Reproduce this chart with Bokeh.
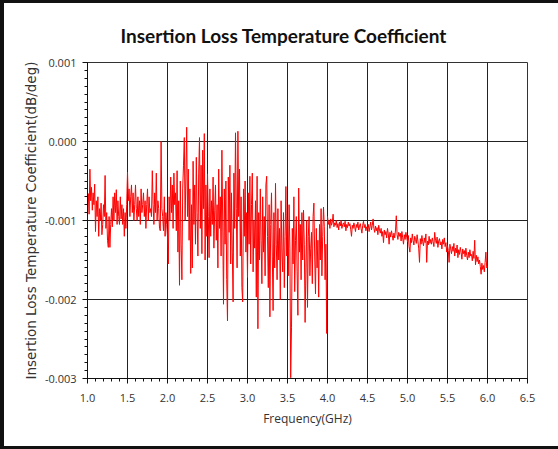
import numpy as np
from bokeh.plotting import figure
from bokeh.models import Range1d, SingleIntervalTicker, PrintfTickFormatter, ColumnDataSource
from bokeh.embed import file_html
from bokeh.resources import INLINE

title_text = "Insertion Loss Temperature Coefficient"
x_label = "Frequency(GHz)"
y_label = "Insertion Loss Temperature Coefficient(dB/deg)"

# frequency sweep, 1.00 .. 6.00 GHz in 0.01 GHz steps (501 points)
freq_ghz = np.round(np.linspace(1.0, 6.0, 501), 2)

# coefficient, in units of 0.001 dB/deg (one row = 0.1 GHz)
band_1_2 = [
    -0.80, -0.66, -0.92, -0.35, -0.75, -0.58, -0.87, -0.65, -0.80, -0.54,
    -1.14, -0.75, -0.95, -0.70, -1.20, -0.85, -1.00, -0.78, -1.18, -1.05,
    -0.80, -0.95, -0.43, -1.10, -0.90, -1.25, -1.34, -0.95, -1.34, -1.05,
    -0.85, -1.08, -0.70, -1.00, -0.65, -0.90, -0.61, -1.05, -0.75, -0.95,
    -1.05, -0.70, -0.98, -0.80, -1.05, -0.85, -1.20, -0.90, -1.10, -0.80,
    -0.39, -0.75, -0.60, -0.95, -0.70, -0.55, -0.90, -0.65, -1.00, -0.80,
    -0.55, -0.85, -1.00, -0.70, -0.95, -0.75, -1.05, -0.60, -0.90, -0.80,
    -0.65, -0.95, -0.75, -1.10, -0.80, -0.60, -1.00, -0.70, -0.90, -0.85,
    -0.95, -0.37, -0.80, -1.05, -0.65, -0.90, -0.40, -1.00, -0.75, -0.85,
    -1.10, -1.13, 0.00, -0.85, -0.95, -1.13, -0.70, -1.20, -0.90, -1.05,
]
band_2_3 = [
    -1.20, -1.55, -0.70, -1.00, -0.45, -0.90, -0.55, -1.10, -0.40, -0.80,
    -0.65, -1.13, -0.37, -1.40, -0.75, -1.82, -0.50, -1.30, -1.75, -0.60,
    -0.30, 0.05, -1.00, -0.45, 0.18, -0.95, -0.35, -1.25, -0.60, -1.67,
    -0.80, -1.60, -0.25, -1.05, -0.55, -1.30, -0.20, -0.90, -1.45, -0.40,
    0.05, -1.10, -0.30, -1.42, -0.11, -0.85, 0.10, -1.50, -0.55, -1.20,
    -0.41, -0.95, -1.47, -0.60, -1.20, -0.75, -1.05, -0.45, -1.35, -0.87,
    -0.55, -1.25, -0.80, -1.60, -0.35, -1.10, -0.70, -1.45, -0.11, -1.00,
    -2.06, -0.60, -1.30, -0.50, -1.75, -2.27, -0.45, -1.15, -0.30, -1.55,
    -0.65, -1.40, -2.03, -0.40, -1.10, 0.11, -0.85, -1.60, 0.13, -0.95,
    -0.35, -1.45, -0.70, -1.85, -2.03, -0.60, -1.20, -0.50, -1.40, -0.90,
]
band_3_4 = [
    -1.72, -0.65, -1.30, -0.44, -1.55, -0.80, -0.40, -1.65, -1.00, -1.35,
    -0.75, -1.97, -0.44, -2.37, -0.90, -1.50, -0.60, -1.25, -1.80, -0.70,
    -1.40, -0.95, -1.70, -0.55, -0.44, -1.20, -1.85, -0.80, -2.22, -1.05,
    -0.65, -1.45, -2.14, -0.90, -1.60, -0.53, -1.30, -1.75, -0.85, -1.50,
    -1.10, -2.00, -0.75, -1.40, -1.65, -0.90, -1.85, -1.20, -0.57, -1.45,
    -1.00, -1.70, -0.80, -1.35, -2.99, -2.35, -1.10, -1.55, -0.70, -1.90,
    -1.25, -0.95, -1.65, -2.20, -0.59, -1.40, -1.05, -1.75, -0.90, -1.50,
    -0.87, -1.30, -2.29, -1.60, -1.00, -2.10, -1.20, -0.95, -1.70, -1.35,
    -1.15, -1.80, -0.95, -0.78, -1.45, -1.93, -1.10, -1.60, -1.25, -1.97,
    -1.05, -1.50, -0.85, -1.70, -1.20, -0.83, -1.08, -1.75, -1.30, -2.43,
]
band_4_5 = [
    -0.95, -1.05, -1.00, -1.10, -0.98, -1.06, -1.02, -0.92, -1.08, -1.03,
    -1.06, -1.00, -1.09, -1.04, -1.12, -1.02, -1.07, -1.00, -1.10, -1.05,
    -1.03, -1.08, -1.01, -1.13, -1.05, -1.09, -1.02, -1.07, -1.04, -1.11,
    -1.20, -1.06, -1.10, -1.03, -1.08, -1.14, -1.05, -1.09, -1.02, -1.12,
    -1.07, -1.04, -1.10, -1.16, -1.06, -1.01, -1.09, -1.05, -1.13, -1.08,
    -1.10, -1.05, -1.14, -1.08, -1.02, -1.12, -1.06, -0.98, -1.10, -1.15,
    -1.07, -1.13, -1.09, -1.18, -1.06, -1.12, -1.16, -1.10, -1.20, -1.14,
    -1.28, -1.12, -1.18, -1.14, -1.22, -1.10, -1.17, -1.30, -1.15, -1.21,
    -1.13, -1.19, -1.25, -1.16, -1.22, -1.12, -0.94, -1.18, -1.24, -1.15,
    -1.20, -1.16, -1.26, -1.14, -1.22, -1.30, -1.18, -1.24, -1.15, -1.21,
]
band_5_6 = [
    -1.27, -1.19, -1.33, -1.40, -1.22, -1.28, -1.17, -1.25, -1.31, -1.20,
    -1.24, -1.29, -1.18, -1.26, -1.35, -1.53, -1.23, -1.30, -1.19, -1.27,
    -1.32, -1.22, -1.28, -1.17, -1.53, -1.26, -1.31, -1.20, -1.29, -1.24,
    -1.30, -1.22, -1.27, -1.33, -1.15, -1.25, -1.29, -1.21, -1.34, -1.26,
    -1.23, -1.31, -1.27, -1.36, -1.24, -1.30, -1.22, -1.33, -1.28, -1.40,
    -1.32, -1.38, -1.53, -1.30, -1.36, -1.42, -1.33, -1.39, -1.29, -1.45,
    -1.35, -1.41, -1.31, -1.47, -1.37, -1.43, -1.34, -1.40, -1.49, -1.36,
    -1.42, -1.38, -1.46, -1.35, -1.44, -1.50, -1.40, -1.47, -1.37, -1.45,
    -1.43, -1.51, -1.39, -1.48, -1.25, -1.56, -1.44, -1.52, -1.46, -1.55,
    -1.50, -1.58, -1.68, -1.54, -1.62, -1.57, -1.65, -1.53, -1.40, -1.60,
    -1.58,
]

coef_milli = band_1_2 + band_2_3 + band_3_4 + band_4_5 + band_5_6
coef = np.array(coef_milli) / 1000.0

src = ColumnDataSource(data=dict(f=freq_ghz, c=coef))

p = figure(
    output_backend="svg", toolbar_location=None,
    frame_width=440, frame_height=316,
    min_border_left=83, min_border_right=31, min_border_top=59, min_border_bottom=68,
    x_range=Range1d(1.0, 6.5), y_range=Range1d(-0.003, 0.001),
    title=title_text,
)
p.styles = {"border-left": "4px solid #111", "border-top": "3px solid #111",
            "border-bottom": "3px solid #111"}

p.line("f", "c", source=src, line_color="#ff0000", line_width=1)

p.title.text_font = "Lato"
p.title.text_font_size = "19px"
p.title.text_font_style = "bold"
p.title.text_color = "#111111"
p.title.align = "left"
p.title.offset = 33
p.title.standoff = 32

p.xaxis.ticker = SingleIntervalTicker(interval=0.5, num_minor_ticks=5)
p.yaxis.ticker = SingleIntervalTicker(interval=0.001, num_minor_ticks=10)
p.xaxis.formatter = PrintfTickFormatter(format="%.1f")
p.yaxis.formatter = PrintfTickFormatter(format="%.3f")

for ax in (p.xaxis[0], p.yaxis[0]):
    ax.major_tick_in = 0
    ax.major_tick_out = 5
    ax.minor_tick_in = 0
    ax.minor_tick_out = 3
    ax.axis_line_color = "#111111"
    ax.major_tick_line_color = "#111111"
    ax.minor_tick_line_color = "#111111"
    ax.major_label_text_font = "Open Sans"
    ax.major_label_text_font_size = "11px"
    ax.major_label_text_color = "#333333"
    ax.axis_label_text_font_style = "normal"
    ax.axis_label_text_color = "#333333"

p.xaxis.axis_label_text_font = "Open Sans"
p.xaxis.axis_label_text_font_size = "12px"
p.yaxis.axis_label_text_font = "DejaVu Sans"
p.yaxis.axis_label_text_font_size = "13.5px"
p.xaxis.axis_label = x_label
p.yaxis.axis_label = y_label
p.xaxis.major_label_standoff = 10
p.xaxis.axis_label_standoff = 5
p.yaxis.major_label_standoff = 6
p.yaxis.axis_label_standoff = 3

p.xgrid.grid_line_color = "#222222"
p.ygrid.grid_line_color = "#222222"
p.xgrid.grid_line_alpha = 1.0
p.ygrid.grid_line_alpha = 1.0
p.outline_line_color = "#333333"
p.outline_line_alpha = 1.0
p.background_fill_color = "white"
p.border_fill_color = "white"

open("out.html", "w").write(file_html(p, INLINE))
